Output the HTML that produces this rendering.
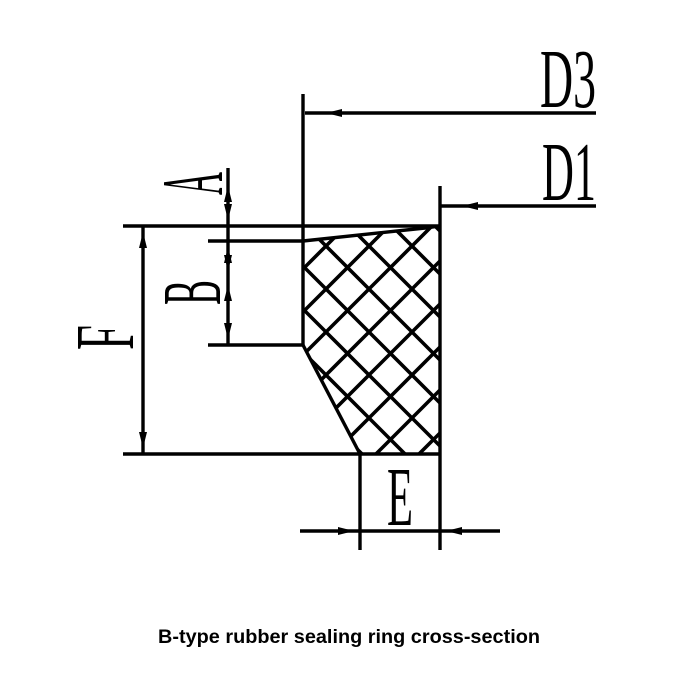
<!DOCTYPE html>
<html><head><style>html,body{margin:0;padding:0;background:#fff;overflow:hidden;width:700px;height:700px}svg{display:block}</style></head><body>
<svg width="700" height="700" viewBox="0 0 700 700" xmlns="http://www.w3.org/2000/svg">
<defs>
<clipPath id="c"><polygon points="303,241 425,228 440,226 440,454 360,454 303,345"/></clipPath>
</defs>
<g clip-path="url(#c)" stroke="#000" stroke-width="3.6">
<line x1="200" y1="286" x2="500" y2="-14"/>
<line x1="200" y1="329" x2="500" y2="29"/>
<line x1="200" y1="372" x2="500" y2="72"/>
<line x1="200" y1="415" x2="500" y2="115"/>
<line x1="200" y1="458" x2="500" y2="158"/>
<line x1="200" y1="501" x2="500" y2="201"/>
<line x1="200" y1="544" x2="500" y2="244"/>
<line x1="200" y1="587" x2="500" y2="287"/>
<line x1="200" y1="630" x2="500" y2="330"/>
<line x1="200" y1="673" x2="500" y2="373"/>
<line x1="200" y1="716" x2="500" y2="416"/>
<line x1="200" y1="759" x2="500" y2="459"/>
<line x1="200" y1="802" x2="500" y2="502"/>
<line x1="200" y1="-181" x2="500" y2="119"/>
<line x1="200" y1="-138" x2="500" y2="162"/>
<line x1="200" y1="-95" x2="500" y2="205"/>
<line x1="200" y1="-52" x2="500" y2="248"/>
<line x1="200" y1="-9" x2="500" y2="291"/>
<line x1="200" y1="34" x2="500" y2="334"/>
<line x1="200" y1="77" x2="500" y2="377"/>
<line x1="200" y1="120" x2="500" y2="420"/>
<line x1="200" y1="163" x2="500" y2="463"/>
<line x1="200" y1="206" x2="500" y2="506"/>
<line x1="200" y1="249" x2="500" y2="549"/>
<line x1="200" y1="292" x2="500" y2="592"/>
</g>
<g stroke="#000" stroke-width="3.4" fill="none" stroke-linecap="butt">
<polyline points="303,241 425,228 440,226"/>
<polyline points="303,345 360,454"/>
<line x1="303" y1="94" x2="303" y2="345"/>
<line x1="305" y1="113" x2="596" y2="113"/>
<line x1="440" y1="186" x2="440" y2="550"/>
<line x1="440" y1="206" x2="596" y2="206"/>
<line x1="123" y1="226" x2="440" y2="226"/>
<line x1="208" y1="241" x2="303" y2="241"/>
<line x1="208" y1="345" x2="303" y2="345"/>
<line x1="123" y1="454" x2="440" y2="454"/>
<line x1="360" y1="454" x2="360" y2="550"/>
<line x1="300" y1="531" x2="500" y2="531"/>
<line x1="143" y1="226" x2="143" y2="454"/>
<line x1="228" y1="168" x2="228" y2="345"/>
</g>
<g fill="#000">
<polygon points="326,113 342,109 342,117"/>
<polygon points="462,206 478,202 478,210"/>
<polygon points="143,232 139,248 147,248"/>
<polygon points="143,448 139,432 147,432"/>
<polygon points="228,220 224,204 232,204"/>
<polygon points="228,186 224,202 232,202"/>
<polygon points="228,247 224,263 232,263"/>
<polygon points="228,271 224,255 232,255"/>
<polygon points="228,285 224,301 232,301"/>
<polygon points="228,339 224,323 232,323"/>
<polygon points="354,531 338,527 338,535"/>
<polygon points="446,531 462,527 462,535"/>
</g>
<g font-family="Liberation Serif, serif" fill="#000" font-size="84">
<text x="540" y="107" textLength="56" lengthAdjust="spacingAndGlyphs">D3</text>
<text x="542" y="200" textLength="54" lengthAdjust="spacingAndGlyphs">D1</text>
<text x="387" y="525" textLength="26" lengthAdjust="spacingAndGlyphs">E</text>
<text transform="translate(222,195) rotate(-90)" textLength="23" lengthAdjust="spacingAndGlyphs" x="0" y="0" font-size="88">A</text>
<text transform="translate(220,305) rotate(-90)" textLength="25" lengthAdjust="spacingAndGlyphs" x="0" y="0" font-size="84">B</text>
<text transform="translate(133,350) rotate(-90)" textLength="25" lengthAdjust="spacingAndGlyphs" x="0" y="0" font-size="84">F</text>
</g>
<text x="158" y="643" font-family="Liberation Sans, sans-serif" font-weight="bold" font-size="19" textLength="382" lengthAdjust="spacingAndGlyphs" fill="#000">B-type rubber sealing ring cross-section</text>
</svg>
</body></html>
